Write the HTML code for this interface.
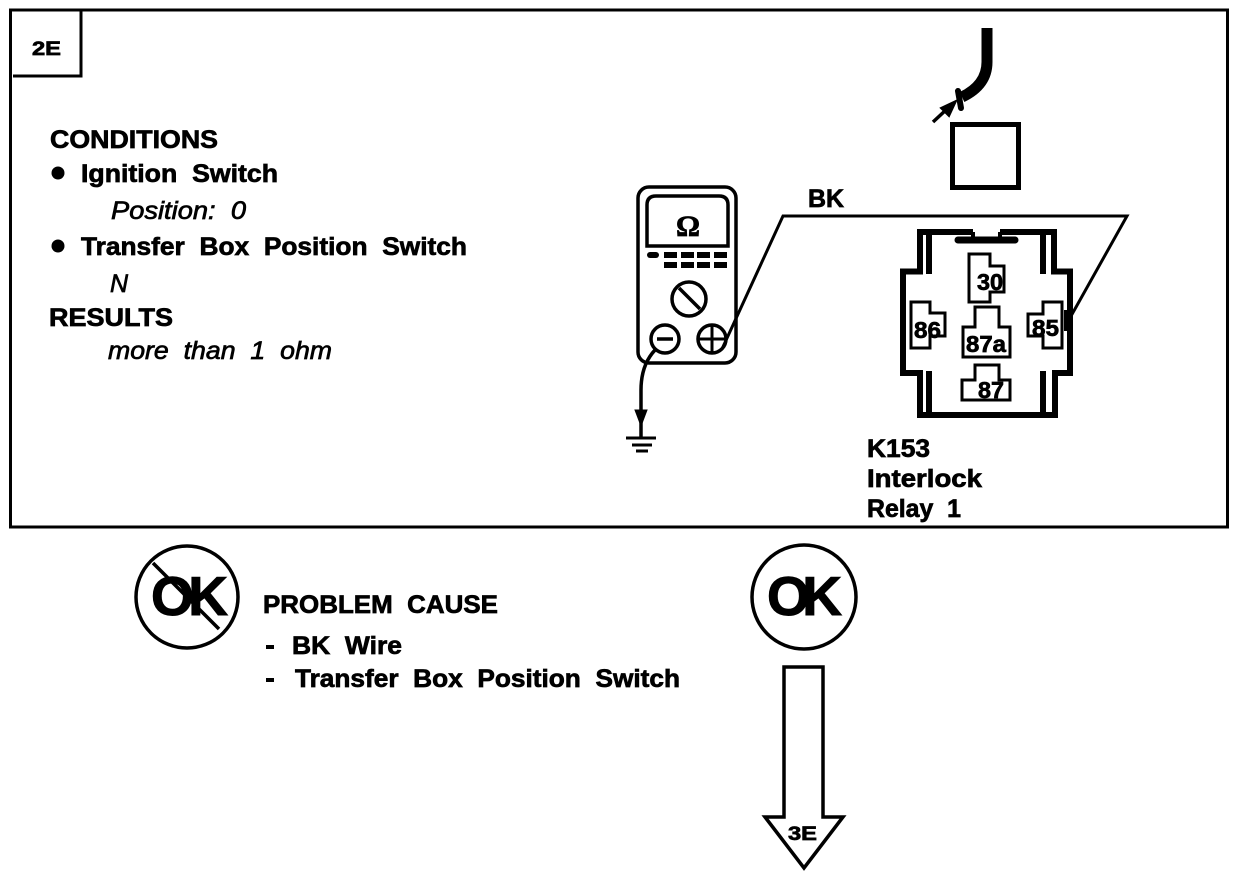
<!DOCTYPE html>
<html><head><meta charset="utf-8"><style>
html,body{margin:0;padding:0;background:#fff}
svg{display:block}
text{font-family:"Liberation Sans",sans-serif;font-weight:bold;fill:#000;stroke:#000;stroke-width:.7}
.i{font-style:italic;font-weight:normal;stroke-width:.7}
.w{word-spacing:7px}
</style></head><body>
<svg width="1248" height="876" viewBox="0 0 1248 876" xmlns="http://www.w3.org/2000/svg">
<g fill="none" stroke="#000" stroke-linejoin="miter" stroke-linecap="butt">
<rect x="10.5" y="10" width="1217" height="517" stroke-width="3"/>
<path d="M13 76H81V10" stroke-width="3"/>
<!-- wire and connector -->
<path d="M987 28V62Q987 85 962 97" stroke-width="11"/>
<path d="M958 91L961 108" stroke-width="6" stroke-linecap="round"/>
<path d="M933 122L947 109" stroke-width="3.5"/>
<path d="M941 108L956 101L949 116Z" fill="#000" stroke-width="2"/>
<rect x="952.5" y="124.5" width="66" height="63" stroke-width="5"/>
<!-- meter -->
<rect x="638" y="187" width="98" height="176" rx="11" stroke-width="3.5"/>
<path d="M647 246V205Q647 196 656 196H719Q728 196 728 205V246Z" stroke-width="3.5"/>
<circle cx="689" cy="299" r="17" stroke-width="3.5"/>
<path d="M679 288L700 309" stroke-width="3.5"/>
<circle cx="665" cy="339" r="14" stroke-width="3.5"/>
<path d="M657 339H673" stroke-width="3.5"/>
<circle cx="712" cy="339" r="14" stroke-width="3.5"/>
<path d="M698 339H726M712 325V353" stroke-width="3"/>
<path d="M722 349L783 216H1127L1066 325" stroke-width="3"/>
<path d="M655 350Q641 365 641 390V438" stroke-width="3.5"/>
<path d="M635 410H647L641 426Z" fill="#000" stroke-width="1"/>
<path d="M626 438H656" stroke-width="3"/>
<path d="M632 445H652" stroke-width="3"/>
<path d="M636 451H648" stroke-width="3"/>
<!-- relay -->
<path d="M973 232H920V271.5H903V373H920V415H1055V373H1070V271.5H1054V232H1000" stroke-width="6"/>
<path d="M929 232V274M1043 232V274M929 371V415M1043 371V415" stroke-width="6"/>
<path d="M958 240H1015" stroke-width="7" stroke-linecap="round"/>
<path d="M973 232V238M1000 232V238" stroke-width="4"/>
<path d="M969 254H990V266H1004V292H990V302H969Z" stroke-width="3"/>
<path d="M911 302H930V313H945V336H930V348H911Z" stroke-width="3"/>
<path d="M1043 302H1062V348H1043V336H1028V314H1043Z" stroke-width="3"/>
<path d="M975 307H999V327H1010V357H963V327H975Z" stroke-width="3"/>
<path d="M975 365H999V380H1010V400H962V380H975Z" stroke-width="3"/>
<path d="M1065 311H1071V330H1065Z" fill="#000" stroke-width="2"/>
<!-- OK circles -->
<circle cx="187" cy="597" r="51" stroke-width="3.5"/>
<path d="M153 563L219 629" stroke-width="3.5"/>
<circle cx="804" cy="597" r="52" stroke-width="3.5"/>
<!-- arrow -->
<path d="M784 667H823V817H843L804 868L765 817H784Z" stroke-width="3.5"/>
</g>
<g fill="#000">
<rect x="647" y="252" width="12" height="6" rx="3"/>
<rect x="664" y="252" width="13" height="6"/><rect x="681" y="252" width="13" height="6"/><rect x="697" y="252" width="13" height="6"/><rect x="714" y="252" width="13" height="6"/>
<rect x="664" y="262" width="13" height="6"/><rect x="681" y="262" width="13" height="6"/><rect x="697" y="262" width="13" height="6"/><rect x="714" y="262" width="13" height="6"/>
<circle cx="58" cy="173" r="6.5"/><circle cx="58" cy="246" r="6.5"/>
<rect x="266" y="645" width="8" height="4"/><rect x="266" y="678" width="8" height="4"/>
</g>
<text x="32" y="55" font-size="19" textLength="29" lengthAdjust="spacingAndGlyphs">2E</text>
<text x="50" y="148" font-size="25" textLength="168" lengthAdjust="spacingAndGlyphs">CONDITIONS</text>
<text class="w" x="81" y="182" font-size="25" textLength="197" lengthAdjust="spacingAndGlyphs">Ignition Switch</text>
<text class="i w" x="111" y="219" font-size="25" textLength="135" lengthAdjust="spacingAndGlyphs">Position: 0</text>
<text class="w" x="81" y="255" font-size="25" textLength="386" lengthAdjust="spacingAndGlyphs">Transfer Box Position Switch</text>
<text class="i" x="110" y="292" font-size="25">N</text>
<text x="49" y="326" font-size="25" textLength="124" lengthAdjust="spacingAndGlyphs">RESULTS</text>
<text class="i w" x="108" y="359" font-size="25" textLength="224" lengthAdjust="spacingAndGlyphs">more than 1 ohm</text>
<text x="808" y="207" font-size="25" textLength="36" lengthAdjust="spacingAndGlyphs">BK</text>
<text x="688" y="236" font-size="30" text-anchor="middle" style="font-family:'Liberation Serif','DejaVu Serif',serif">Ω</text>
<text x="977" y="290" font-size="23" textLength="26" lengthAdjust="spacingAndGlyphs">30</text>
<text x="914" y="338" font-size="23" textLength="27" lengthAdjust="spacingAndGlyphs">86</text>
<text x="1032" y="336" font-size="23" textLength="27" lengthAdjust="spacingAndGlyphs">85</text>
<text x="966" y="352" font-size="23" textLength="40" lengthAdjust="spacingAndGlyphs">87a</text>
<text x="978" y="398" font-size="23" textLength="26" lengthAdjust="spacingAndGlyphs">87</text>
<text x="867" y="457" font-size="25" textLength="63" lengthAdjust="spacingAndGlyphs">K153</text>
<text x="867" y="487" font-size="25" textLength="115" lengthAdjust="spacingAndGlyphs">Interlock</text>
<text class="w" x="867" y="517" font-size="25" textLength="94" lengthAdjust="spacingAndGlyphs">Relay 1</text>
<text x="151" y="615" font-size="55" textLength="77" lengthAdjust="spacing" style="stroke-width:1">OK</text>
<text x="767" y="615" font-size="55" textLength="75" lengthAdjust="spacing" style="stroke-width:1">OK</text>
<text class="w" x="263" y="613" font-size="25" textLength="235" lengthAdjust="spacingAndGlyphs">PROBLEM CAUSE</text>
<text class="w" x="292" y="654" font-size="25" textLength="110" lengthAdjust="spacingAndGlyphs">BK Wire</text>
<text class="w" x="295" y="687" font-size="25" textLength="385" lengthAdjust="spacingAndGlyphs">Transfer Box Position Switch</text>
<text x="788" y="840" font-size="19" textLength="29" lengthAdjust="spacingAndGlyphs">3E</text>
</svg>
</body></html>
